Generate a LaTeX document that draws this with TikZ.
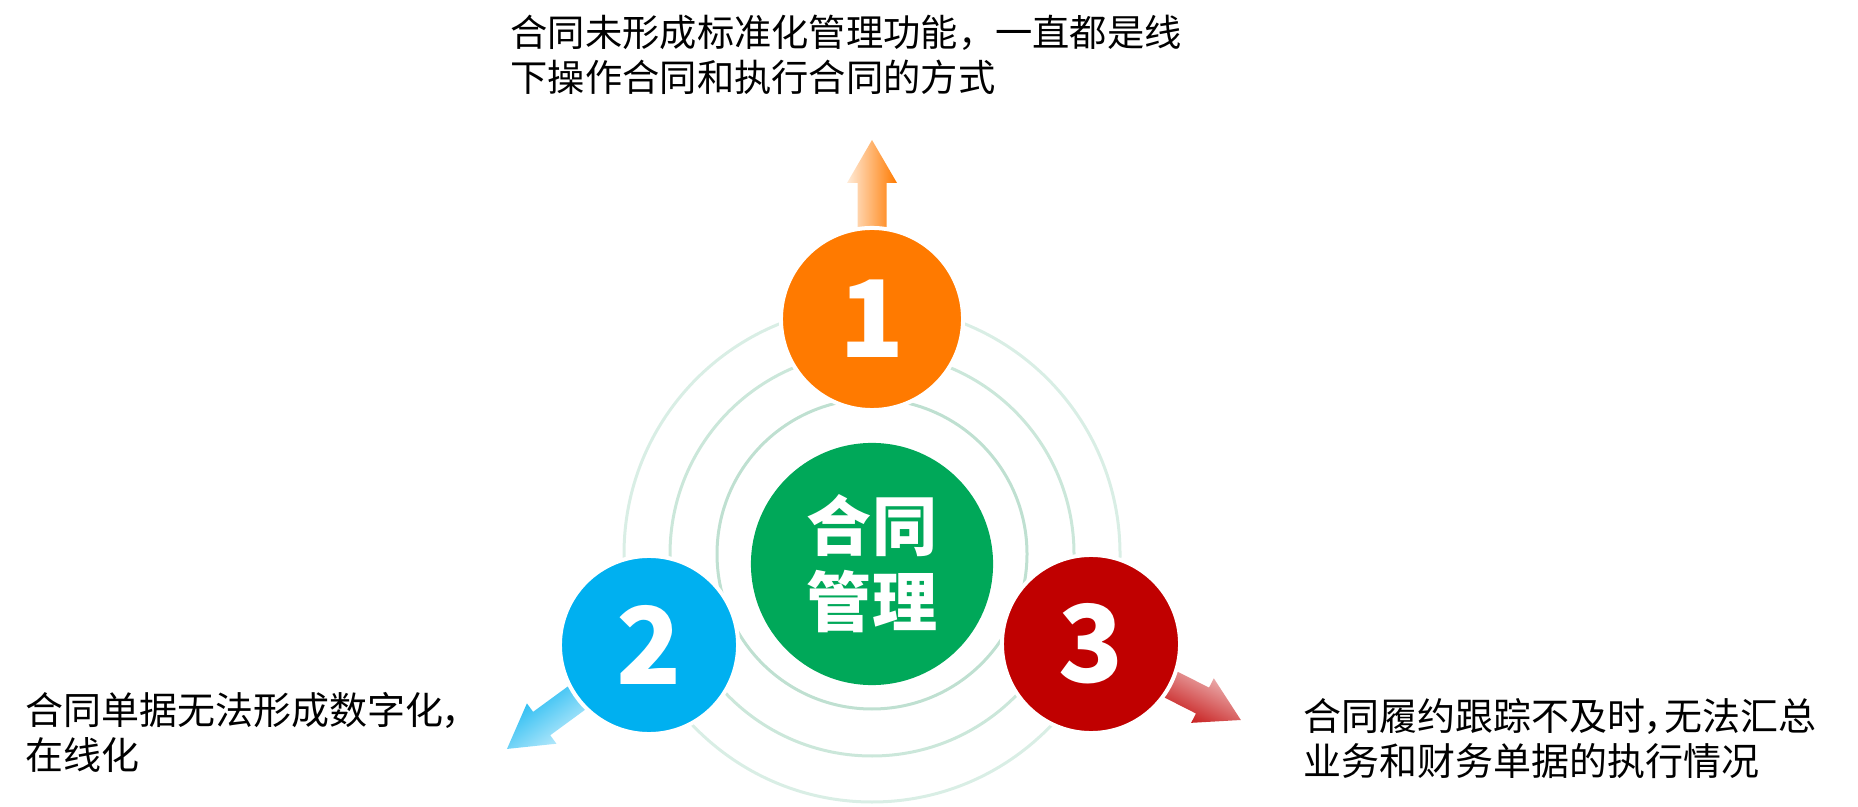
\documentclass[tikz,border=0pt]{standalone}
\usepackage{fontspec}
\newfontfamily\cjk{Noto Sans CJK SC}
\newfontfamily\cjknote{Noto Sans CJK SC}[RawFeature=+palt]
\definecolor{hubgreen}{HTML}{00A859}
\definecolor{orangeone}{HTML}{FF7A00}
\definecolor{bluetwo}{HTML}{00B0F0}
\definecolor{redthree}{HTML}{C00000}
\definecolor{ringin}{HTML}{BFE0D1}
\definecolor{ringmid}{HTML}{CBE7DA}
\definecolor{ringout}{HTML}{D9EEE5}
\newcommand\burst[4]{\shade[left color=#4!15, right color=#4, shading angle=#2, shift={(#1)}, rotate=#2]
    (#3-20,-14.5) -- (#3+45,-14.5) -- (#3+45,-25) -- (#3+88,0) -- (#3+45,25) -- (#3+45,14.5) -- (#3-20,14.5) -- cycle;}

\begin{document}
\begin{tikzpicture}[x=0.01cm, y=-0.01cm,
                    ball/.style={circle, fill=#1, draw=white, line width=0.04cm, inner sep=0pt, minimum size=1.78cm,
                                 text=white, font=\cjk\bfseries\fontsize{30.4}{30.4}\selectfont},
                    hubball/.style={circle, fill=hubgreen, inner sep=0pt, minimum size=2.42cm, text=white, align=center,
                                    font=\cjk\bfseries\fontsize{18.5}{21.6}\selectfont},
                    note/.style={anchor=base west, inner sep=0pt, align=left, font=\cjknote\fontsize{10.8}{12.8}\selectfont},
                    halo/.style={draw=#1, line width=0.03cm}]
    \useasboundingbox (0,0) rectangle (1858,807);
    \coordinate (c1) at (872,319);
    \coordinate (c2) at (649,645);
    \coordinate (c3) at (1091,644);

    \draw[halo=ringout] (872,554) circle [radius=248];
    \draw[halo=ringmid] (872,554) circle [radius=202];
    \draw[halo=ringin] (872,554) circle [radius=155];

    \burst{c1}{90}{91}{orangeone}
    \burst{c2}{216.2}{88}{bluetwo}
    \burst{c3}{-26.9}{80}{redthree}

    \path
        node[hubball] (hub) at (872,564) {合同\\管理}
        node[ball=orangeone, minimum size=1.82cm] (b1) at (c1) {1}
        node[ball=bluetwo] (b2) at (c2) {2}
        node[ball=redthree] (b3) at (c3) {3};

    \path
        node[note, font=\cjk\fontsize{10.6}{12.7}\selectfont] (n1) at (510,91.5) {合同未形成标准化管理功能，一直都是线\\下操作合同和执行合同的方式}
        node[note] (n2) at (25,769.5) {合同单据无法形成数字化，\\在线化}
        node[note] (n3) at (1303,775.5) {合同履约跟踪不及时，无法汇总\\业务和财务单据的执行情况};
\end{tikzpicture}
\end{document}
